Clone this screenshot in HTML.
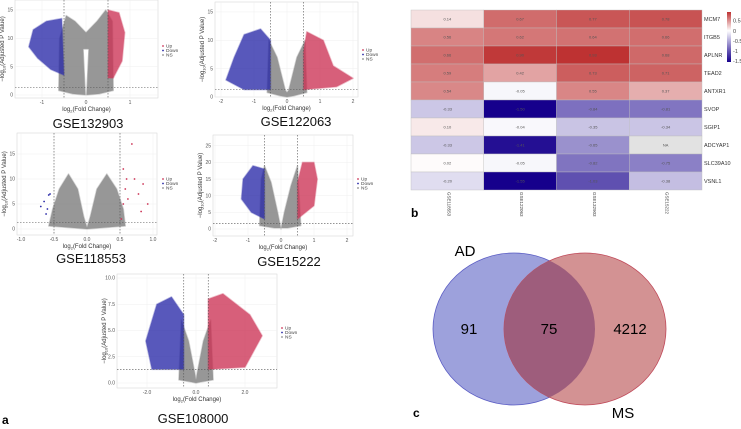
<!DOCTYPE html>
<html><head><meta charset="utf-8">
<style>
html,body{margin:0;padding:0;background:#fff;}
svg{display:block;font-family:"Liberation Sans",sans-serif;}
</style></head>
<body>
<svg id="fig" width="741" height="429" viewBox="0 0 741 429" xmlns="http://www.w3.org/2000/svg">
<text x="2" y="424" font-size="12" font-weight="bold">a</text>
<text x="411" y="217" font-size="12" font-weight="bold">b</text>
<text x="413" y="417" font-size="12" font-weight="bold">c</text>
<g id="volcanoes"></g>
<g id="heat"></g>
<g id="venn">
  <defs><clipPath id="adclip"><ellipse cx="514" cy="329" rx="81" ry="76"/></clipPath></defs>
  <ellipse cx="514" cy="329" rx="81" ry="76" fill="#9da1dc" stroke="#5a5cc4" stroke-width="0.8"/>
  <ellipse cx="585" cy="329" rx="81" ry="76" fill="#d39293" stroke="#c04a5a" stroke-width="0.8"/>
  <ellipse cx="585" cy="329" rx="81" ry="76" fill="#9e5d7c" clip-path="url(#adclip)"/>
  <text x="465" y="256" font-size="15" text-anchor="middle">AD</text>
  <text x="623" y="418" font-size="15" text-anchor="middle">MS</text>
  <text x="469" y="334" font-size="15" text-anchor="middle">91</text>
  <text x="549" y="334" font-size="15" text-anchor="middle">75</text>
  <text x="630" y="334" font-size="15" text-anchor="middle">4212</text>
</g>
</svg>
<script>
const NS="http://www.w3.org/2000/svg";
// ---------- Heatmap data ----------
const heatGenes=["MCM7","ITGB5","APLNR","TEAD2","ANTXR1","SVOP","SGIP1","ADCYAP1","SLC39A10","VSNL1"];
const heatDatasets=["GSE118553","GSE122063","GSE132903","GSE15222"];
const heatMCM7=[0.14,0.67,0.77,0.78];
const heatITGB5=[0.56,0.62,0.64,0.66];
const heatAPLNR=[0.66,0.90,0.93,0.68];
const heatTEAD2=[0.59,0.42,0.73,0.71];
const heatANTXR1=[0.54,-0.05,0.55,0.37];
const heatSVOP=[-0.33,-1.50,-0.84,-0.81];
const heatSGIP1=[0.10,-0.04,-0.35,-0.34];
const heatADCYAP1=[-0.33,-1.41,-0.65,null];
const heatSLC39A10=[0.02,-0.05,-0.82,-0.75];
const heatVSNL1=[-0.20,-1.55,-1.03,-0.38];
const heatRows=[heatMCM7,heatITGB5,heatAPLNR,heatTEAD2,heatANTXR1,heatSVOP,heatSGIP1,heatADCYAP1,heatSLC39A10,heatVSNL1];
const legendTicks=[0.5,0,-0.5,-1,-1.5];

function mk(tag,attrs,parent){const e=document.createElementNS(NS,tag);for(const k in attrs)e.setAttribute(k,attrs[k]);parent.appendChild(e);return e;}
function heatColor(v){
  if(v===null)return "#e2e2e2";
  if(v>=0){const t=Math.min(v/1,1);return `rgb(${Math.round(255+(185-255)*t)},${Math.round(255+(35-255)*t)},${Math.round(255+(35-255)*t)})`;}
  const t=Math.min(-v/1.5,1);return `rgb(${Math.round(255+(22-255)*t)},${Math.round(255+(0-255)*t)},${Math.round(255+(140-255)*t)})`;
}
(function(){
  const g=document.getElementById('heat');
  const x0=411,y0=10,cw=72.75,ch=18;
  const xs=i=>x0+i*cw, ys=j=>y0+j*ch;
  heatRows.forEach((row,j)=>{
    row.forEach((v,i)=>{
      const r=mk('rect',{x:xs(i),y:ys(j),width:cw,height:ch,fill:heatColor(v),stroke:'#bdbdbd','stroke-width':0.4},g);
      
      
      const t=mk('text',{x:xs(i)+cw/2,y:ys(j)+ch/2+1.5,'font-size':4,'text-anchor':'middle',fill:'#555'},g);
      t.textContent=v===null?'NA':v.toFixed(2);
      
      
    });
    const gl=mk('text',{x:xs(4)+2,y:ys(j)+ch/2+2,'font-size':5.5,fill:'#333'},g);
    gl.textContent=heatGenes[j];
    
    
  });
  heatDatasets.forEach((d,i)=>{
    const cx=xs(i)+cw/2;
    const t=mk('text',{x:cx,y:192,'font-size':4.5,fill:'#444',transform:`rotate(90 ${cx} 192)`},g);
    t.textContent=d;
    
    
  });
  const defs=mk('defs',{},g);
  const lg=mk('linearGradient',{id:'hg',x1:0,y1:0,x2:0,y2:1},defs);
  const lv=[0.93,0.5,0,-0.5,-1,-1.55];
  const ly=v=>12+(0.93-v)/(0.93+1.55)*50;
  lv.forEach(v=>mk('stop',{offset:((0.93-v)/(2.48)),'stop-color':heatColor(v)},lg));
  const bar=mk('rect',{x:727,y:12,width:4,height:50,fill:'url(#hg)'},g);
  
  
  legendTicks.forEach(v=>{
    const t=mk('text',{x:733,y:ly(v)+2,'font-size':5.5,fill:'#444'},g);
    t.textContent=String(v);
    
    
  });
})();

// ---------- Volcano panels ----------
const panelNames=["GSE132903","GSE122063","GSE118553","GSE15222","GSE108000"];
const xTicks1=[-1,0,1], yTicks1=[0,5,10,15];
const xTicks2=[-2,-1,0,1,2], yTicks2=[0,5,10,15];
const xTicks3=[-1.0,-0.5,0.0,0.5,1.0], yTicks3=[0,5,10,15];
const xTicks4=[-2,-1,0,1,2], yTicks4=[0,5,10,15,20,25];
const xTicks5=[-2,0,2], yTicks5=[0.0,2.5,5.0,7.5,10.0];
const upDots3=[[0.52,2],[0.55,5],[0.58,8],[0.6,10],[0.68,17],[0.72,10],[0.78,7],[0.82,3.5],[0.85,9],[0.92,5],[0.55,12],[0.62,6]];
const downDots3=[[-0.62,3],[-0.65,5.5],[-0.58,6.8],[-0.56,7],[-0.6,4],[-0.7,4.5]];
const P=[
 {box:[15,0,158,98],x0:86,xu:44,y0:95,yu:5.67,vl:0.5,hl:1.3,xt:xTicks1,yt:yTicks1,dec:0,leg:[163,46],title:[88,128],
  grey:[[-0.62,0.8],[-0.6,10],[-0.45,14],[-0.25,13],[0,11],[0.25,13],[0.45,15],[0.6,13],[0.62,0.8],[0.3,0.2],[0,0],[-0.3,0.2]],
  notch:[[0,0],[-0.05,8],[0.05,8]],
  blue:[[-0.5,3.5],[-0.8,4.5],[-1.1,6.5],[-1.3,8.5],[-1.2,11.5],[-0.9,13],[-0.55,13.5]],
  red:[[0.5,3],[0.5,15],[0.75,14.5],[0.88,11],[0.82,6],[0.62,3]],dotsU:[],dotsD:[]},
 {box:[215,2,358,97],x0:287,xu:33,y0:97,yu:5.67,vl:0.5,hl:1.3,xt:xTicks2,yt:yTicks2,dec:0,leg:[363,50],title:[296,126],
  grey:[[-0.6,0.8],[-0.55,10],[-0.3,7],[-0.05,1.2],[0,0.8],[0.05,1.2],[0.3,7],[0.55,10],[0.6,0.8],[0.2,0.2],[0,0],[-0.2,0.2]],
  notch:[],
  blue:[[-0.5,1.3],[-1.3,1.3],[-1.85,3],[-1.6,7],[-1.3,11],[-0.8,12],[-0.5,10]],
  red:[[0.5,1.3],[1.5,1.8],[2,3.3],[1.4,5.5],[1.1,10],[0.6,11.5],[0.5,8]],dotsU:[],dotsD:[]},
 {box:[17,133,157,235],x0:87,xu:66,y0:229,yu:5,vl:0.5,hl:1.3,xt:xTicks3,yt:yTicks3,dec:1,leg:[163,179],title:[91,263],
  grey:[[-0.58,0.6],[-0.52,4],[-0.42,8],[-0.28,11],[-0.14,8],[-0.05,2.5],[0,0.3],[0.05,2.5],[0.15,8],[0.3,11],[0.45,8],[0.55,4],[0.58,0.6],[0,0]],
  notch:[],blue:[],red:[],dotsU:upDots3,dotsD:downDots3},
 {box:[213,135,353,236],x0:281,xu:33,y0:229,yu:3.33,vl:0.5,hl:1.7,xt:xTicks4,yt:yTicks4,dec:0,leg:[358,179],title:[289,266],
  grey:[[-0.65,1],[-0.6,15],[-0.5,19],[-0.3,14],[-0.1,5],[0,0],[0.1,5],[0.3,13],[0.5,19],[0.6,1],[0.2,0.3],[-0.2,0.3]],
  notch:[],
  blue:[[-0.5,3],[-0.9,5],[-1.2,9],[-1.15,15],[-0.85,19],[-0.5,18]],
  red:[[0.5,3],[1.0,7],[1.1,15],[1.0,20],[0.65,20],[0.5,14]],dotsU:[],dotsD:[]},
 {box:[117,274,277,388],x0:196,xu:24.5,y0:383,yu:10.5,vl:0.5,hl:1.3,xt:xTicks5,yt:yTicks5,dec:1,leg:[282,328],title:[193,423],
  grey:[[-0.7,0.3],[-0.6,6],[-0.3,4],[-0.05,1],[0,0.3],[0.05,1],[0.3,4],[0.6,6],[0.7,0.3],[0.2,0.1],[0,0],[-0.2,0.1]],
  notch:[],
  blue:[[-0.5,1.3],[-1.8,1.3],[-2.05,4],[-1.6,7.5],[-1.0,8.2],[-0.5,6.5]],
  red:[[0.5,1.3],[2,1.5],[2.7,4.5],[2.2,6.5],[1.1,8.5],[0.5,8]],dotsU:[],dotsD:[]}
];
(function(){
  const root=document.getElementById('volcanoes');
  P.forEach((p,k)=>{
    const g=mk('g',{},root);
    
    
    const X=v=>p.x0+v*p.xu, Y=v=>p.y0-v*p.yu;
    const [bx0,by0,bx1,by1]=p.box;
    mk('rect',{x:bx0,y:by0,width:bx1-bx0,height:by1-by0,fill:'#fff',stroke:'#d8d8d8','stroke-width':0.6},g);
    p.xt.forEach(v=>mk('line',{x1:X(v),x2:X(v),y1:by0,y2:by1,stroke:'#efefef','stroke-width':0.5},g));
    p.yt.forEach(v=>mk('line',{x1:bx0,x2:bx1,y1:Y(v),y2:Y(v),stroke:'#efefef','stroke-width':0.5},g));
    const poly=(pts,fill,op,name)=>{ if(!pts.length)return;
      const e=mk('polygon',{points:pts.map(q=>X(q[0])+','+Y(q[1])).join(' '),fill:fill,opacity:op,'stroke':fill,'stroke-width':1.5,'stroke-linejoin':'round','stroke-opacity':0.4},g);
      
      };
    poly(p.grey,'#8c8c8c',0.9,'ns-points');
    poly(p.notch,'#ffffff',1,'center-gap');
    poly(p.blue,'#2a2aa8',0.78,'down-points');
    poly(p.red,'#cc3355',0.78,'up-points');
    p.dotsU.forEach(d=>{const c=mk('circle',{cx:X(d[0]),cy:Y(d[1]),r:0.9,fill:'#cc3355'},g);
      });
    p.dotsD.forEach(d=>{const c=mk('circle',{cx:X(d[0]),cy:Y(d[1]),r:0.9,fill:'#2a2aa8'},g);
      });
    [-p.vl,p.vl].forEach(v=>mk('line',{x1:X(v),x2:X(v),y1:by0,y2:by1,stroke:'#555','stroke-width':0.6,'stroke-dasharray':'1.5,1.5'},g));
    mk('line',{x1:bx0,x2:bx1,y1:Y(p.hl),y2:Y(p.hl),stroke:'#555','stroke-width':0.6,'stroke-dasharray':'1.5,1.5'},g);
    p.xt.forEach(v=>{const t=mk('text',{x:X(v),y:by1+6,'font-size':5,'text-anchor':'middle',fill:'#555'},g);t.textContent=p.dec?v.toFixed(1):String(v);
      });
    p.yt.forEach(v=>{const t=mk('text',{x:bx0-2,y:Y(v)+1.7,'font-size':5,'text-anchor':'end',fill:'#555'},g);t.textContent=p.dec&&k===4?v.toFixed(1):String(v);
      });
    const xt=mk('text',{x:(bx0+bx1)/2,y:by1+13,'font-size':6,'text-anchor':'middle',fill:'#333'},g);
    xt.innerHTML='log<tspan font-size="4" dy="1.5">2</tspan><tspan dy="-1.5">(Fold Change)</tspan>';
    
    const yx=bx0-11, yy=(by0+by1)/2;
    const yt=mk('text',{x:yx,y:yy,'font-size':6,'text-anchor':'middle',fill:'#333',transform:`rotate(-90 ${yx} ${yy})`},g);
    yt.innerHTML='−log<tspan font-size="4" dy="1.5">10</tspan><tspan dy="-1.5">(Adjusted P Value)</tspan>';
    
    [['Up','#cc3355'],['Down','#2a2aa8'],['NS','#8a8a8a']].forEach((L,i)=>{
      mk('circle',{cx:p.leg[0],cy:p.leg[1]+i*4.5,r:0.9,fill:L[1]},g);
      const t=mk('text',{x:p.leg[0]+3,y:p.leg[1]+i*4.5+1.6,'font-size':4.8,fill:'#444'},g);t.textContent=L[0];
      
    });
    const tt=mk('text',{x:p.title[0],y:p.title[1],'font-size':13,'text-anchor':'middle',fill:'#111'},g);
    tt.textContent=panelNames[k];
    
  });
})();
</script>
</body></html>
